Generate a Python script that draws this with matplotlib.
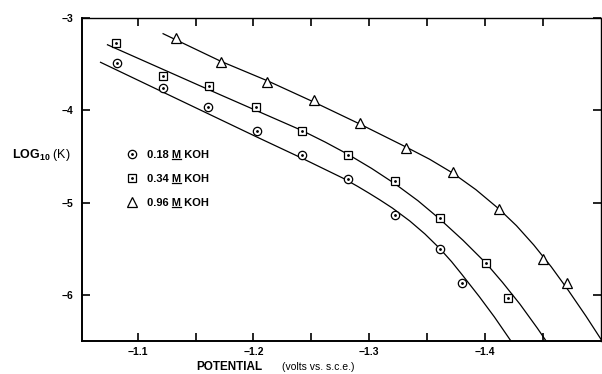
import numpy as np
import matplotlib.pyplot as plt
from matplotlib.ticker import FixedLocator
from matplotlib.lines import Line2D

plt.rcParams['font.family'] = ['Liberation Sans', 'DejaVu Sans']
plt.rcParams['mathtext.fontset'] = 'custom'
plt.rcParams['mathtext.rm'] = 'Liberation Sans'
plt.rcParams['mathtext.bf'] = 'Liberation Sans:bold'

# measured points (potential in volts vs. s.c.e., log10 K)
pot_018 = [-1.082, -1.122, -1.161, -1.203, -1.242, -1.282, -1.322, -1.361, -1.380]
log_018 = [-3.49, -3.76, -3.96, -4.22, -4.48, -4.74, -5.13, -5.50, -5.87]

pot_034 = [-1.081, -1.122, -1.162, -1.202, -1.242, -1.282, -1.322, -1.361, -1.401, -1.420]
log_034 = [-3.27, -3.63, -3.74, -3.96, -4.22, -4.48, -4.77, -5.17, -5.65, -6.03]

pot_096 = [-1.133, -1.172, -1.212, -1.252, -1.292, -1.332, -1.372, -1.412, -1.450, -1.471]
log_096 = [-3.22, -3.48, -3.69, -3.89, -4.14, -4.41, -4.67, -5.07, -5.61, -5.87]

# drawn curves
fit_x_018 = [-1.068, -1.153, -1.203, -1.242, -1.278, -1.290, -1.300, -1.309, -1.320, -1.335,
             -1.348, -1.361, -1.371, -1.380, -1.395, -1.408, -1.425]
fit_y_018 = [-3.48, -3.99, -4.29, -4.52, -4.74, -4.825, -4.90, -4.97, -5.06, -5.20,
             -5.34, -5.50, -5.64, -5.78, -6.02, -6.24, -6.55]
fit_x_034 = [-1.074, -1.171, -1.242, -1.262, -1.282, -1.302, -1.322, -1.342, -1.361, -1.381,
             -1.401, -1.415, -1.430, -1.445, -1.457]
fit_y_034 = [-3.29, -3.83, -4.22, -4.345, -4.48, -4.63, -4.795, -4.98, -5.18, -5.41,
             -5.66, -5.865, -6.10, -6.36, -6.58]
fit_x_096 = [-1.122, -1.172, -1.212, -1.252, -1.292, -1.332, -1.352, -1.372, -1.392, -1.412,
             -1.427, -1.442, -1.457, -1.472, -1.487, -1.502]
fit_y_096 = [-3.17, -3.47, -3.68, -3.91, -4.15, -4.40, -4.53, -4.68, -4.86, -5.07,
             -5.25, -5.46, -5.695, -5.955, -6.23, -6.52]

conc = ['0.18', '0.34', '0.96']
labels = [c + ' M KOH' for c in conc]

fig = plt.figure(figsize=(6.02, 3.74), dpi=100)
ax = fig.add_axes([82 / 602, 33 / 374, 519 / 602, 323 / 374])

lw = 0.9
ax.plot(fit_x_018, fit_y_018, color='black', lw=lw)
ax.plot(fit_x_034, fit_y_034, color='black', lw=lw)
ax.plot(fit_x_096, fit_y_096, color='black', lw=lw)

c1, = ax.plot(pot_018, log_018, 'o', ms=6, mfc='white', mec='black', mew=0.9, ls='none')
c2, = ax.plot(pot_018, log_018, '.', ms=2, color='black', ls='none')
s1, = ax.plot(pot_034, log_034, 's', ms=6, mfc='white', mec='black', mew=0.9, ls='none')
s2, = ax.plot(pot_034, log_034, '.', ms=2, color='black', ls='none')
t1, = ax.plot(pot_096, log_096, '^', ms=6.5, mfc='white', mec='black', mew=0.9, ls='none')

ax.set_xlim(-1.052, -1.5)
ax.set_ylim(-6.5, -3)

ax.xaxis.set_major_locator(FixedLocator([-1.1, -1.2, -1.3, -1.4]))
ax.xaxis.set_minor_locator(FixedLocator([-1.15, -1.25, -1.35, -1.45]))
ax.yaxis.set_major_locator(FixedLocator([-3, -4, -5, -6]))
ax.set_xticklabels(['\u22121.1', '\u22121.2', '\u22121.3', '\u22121.4'])
ax.set_yticklabels(['\u22123', '\u22124', '\u22125', '\u22126'])

ax.tick_params(which='both', direction='in', length=6, width=1.2,
               top=True, right=True, labelsize=7.5)
ax.tick_params(axis='x', pad=4)
ax.tick_params(axis='y', pad=6)
for lab in ax.get_xticklabels() + ax.get_yticklabels():
    lab.set_fontweight('bold')

for side in ['left', 'bottom']:
    ax.spines[side].set_linewidth(1.4)
for side in ['top', 'right']:
    ax.spines[side].set_linewidth(1.0)

fig.text(12 / 602, 1 - 155 / 374, r'$\mathbf{LOG}_{\mathbf{10}}$ (K)', fontsize=9,
         va='center', ha='left')
fig.text(196 / 602, 1 - 367 / 374, 'POTENTIAL', fontsize=8.5, fontweight='bold',
         va='center', ha='left')
fig.text(282 / 602, 1 - 367 / 374, '(volts vs. s.c.e.)', fontsize=7.5,
         va='center', ha='left')

leg = fig.legend([(c1, c2), (s1, s2), t1], labels, loc='upper left',
                 bbox_to_anchor=(126 / 602, 1 - 150 / 374), frameon=False,
                 borderpad=0, borderaxespad=0, handlelength=1.0, handletextpad=0.9,
                 labelspacing=1.25, prop={'size': 8, 'weight': 'bold'})

# underline the "M" in each legend entry
fig.canvas.draw()
renderer = fig.canvas.get_renderer()
W, H = fig.bbox.width, fig.bbox.height
for txt, c in zip(leg.get_texts(), conc):
    bb = txt.get_window_extent(renderer)
    prop = txt.get_fontproperties()
    w0, _, _ = renderer.get_text_width_height_descent(c + ' ', prop, ismath=False)
    wm, _, _ = renderer.get_text_width_height_descent('M', prop, ismath=False)
    x0 = bb.x0 + w0
    y = bb.y0 + 1.0
    fig.add_artist(Line2D([x0 / W, (x0 + wm) / W], [y / H, y / H],
                          transform=fig.transFigure, color='black', lw=0.9))

fig.savefig('out.png', dpi=100)
